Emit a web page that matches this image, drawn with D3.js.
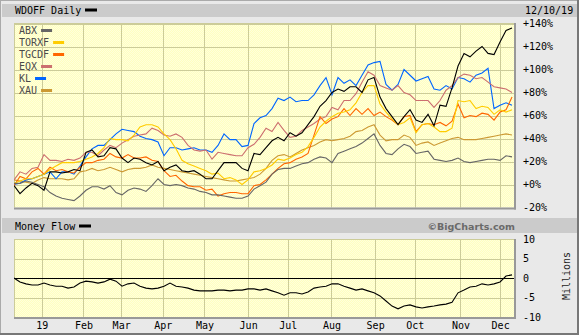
<!DOCTYPE html>
<html><head><meta charset="utf-8">
<script src="https://cdn.jsdelivr.net/npm/d3@7"></script>
<style>
html,body{margin:0;padding:0;background:#e9e9e9;}
svg{display:block;font-family:"DejaVu Sans Mono",monospace;}
</style>
</head><body>
<svg id="c" width="579" height="335"></svg>
<script>
// ---------- data (percent change vs. start, sampled evenly over 252 trading days) ----------
const symbols = ["ABX","TORXF","TGCDF","EQX","KL","XAU"];
const symbolColors = ["#666666","#ffcc00","#ff6600","#cc6f6f","#0066ff","#cc9933"];
const wdoff = [-1,-8,-3,1,-1,-5,11,11,10,11, 13,12,28,30,24,25,32,31,23,19, 23,22,19,17,20,12,15,17,12,11,
  12,9,5,5,12,19,19,19,14,12, 27,26,32,38,41,38,45,42,45,52, 59,68,73,80,83,81,85,85,80,91,
  93,76,66,59,52,59,65,56,54,61, 51,69,68,84,103,114,111,116,120,114, 113,124,134,136];
const abx = [1,1,3,2,0,-2,-7,-10,-12,-13, -14,-10,-5,-2,-2,-4,-1,-7,-9,-5, -3,-4,-6,-1,5,0,-1,0,-1,-3,
  -4,-6,-7,-9,-9,-10,-11,-12,-12,-10, -4,-1,2,9,13,14,14,16,18,19, 22,24,23,19,27,29,31,33,36,40,
  44,34,27,26,31,35,33,27,28,29, 22,21,20,21,23,20,19,20,21,22, 22,21,25,24];
const torxf = [1,3,5,5,7,9,13,16,19,19, 19,20,22,24,27,32,40,39,39,38, 43,50,52,52,50,44,39,31,21,18,
  16,14,12,9,10,5,6,4,0,4, 11,12,14,17,22,21,23,26,28,33, 41,50,55,59,62,63,65,71,80,86,
  86,70,63,57,52,54,58,45,52,53, 50,46,46,49,73,72,73,66,68,67, 61,65,63,65];
const tgcdf = [-1,7,5,11,14,9,15,12,13,11, 10,15,19,19,21,22,27,24,23,26, 23,23,24,21,20,12,7,8,3,-1,
  -2,-2,-5,-4,-10,-8,-7,-7,-8,-8, -1,0,4,9,14,18,19,22,24,27, 43,59,53,57,59,66,60,66,61,66,
  60,63,59,56,52,59,60,46,52,53, 52,54,51,55,70,58,60,59,62,61, 56,63,65,76];
const eqx = [4,11,9,14,15,26,21,21,20,22, 21,23,28,28,25,30,34,32,36,39, 42,43,44,49,47,43,42,44,41,34,
  30,29,30,22,28,27,26,25,25,32, 35,41,49,46,54,47,41,42,47,50, 53,57,59,67,65,73,73,79,89,98,
  95,86,84,82,86,80,78,73,73,73, 67,73,82,86,93,96,95,92,93,89, 85,84,83,80];
const kl = [0,1,4,5,7,9,11,5,11,11, 9,16,24,31,34,34,39,44,48,47, 46,42,40,39,37,25,32,32,30,31,
  32,30,30,28,34,44,39,39,33,34, 53,58,60,66,75,73,76,72,73,73, 78,86,93,78,93,88,91,86,95,104,
  106,107,87,82,87,100,95,90,92,94, 83,82,86,83,93,92,89,95,97,101, 66,69,71,69];
const xau = [4,3,2,1,4,6,5,5,5,4, 5,11,12,14,12,13,15,13,11,13, 14,14,15,17,15,14,13,12,11,10,
  9,8,7,6,5,4,3,3,4,5, 6,9,14,21,25,26,24,27,30,32, 34,37,39,38,39,40,42,46,47,50,
  52,43,38,39,39,43,41,34,36,37, 34,36,38,40,41,39,39,39,40,41, 42,43,44,43];
const moneyFlow = [0,-1.0,-1.5,-1.8,-1.8,-1.3,-1.8,-2.1,-2.1,-2.6, -2.3,-1.3,-0.8,-1.0,-1.3,-1.0,-0.3,-0.8,-2.1,-1.5,
  -1.3,-2.1,-2.6,-2.8,-2.6,-2.1,-1.3,-2.1,-2.3,-2.6, -3.1,-3.3,-3.3,-3.3,-3.1,-3.1,-3.3,-3.1,-3.1,-2.8,
  -2.8,-3.1,-2.8,-3.3,-3.8,-4.4,-3.8,-3.8,-4.1,-3.6, -2.6,-2.3,-2.1,-1.5,-1.5,-2.1,-2.6,-3.1,-2.8,-3.3,
  -3.8,-4.6,-5.9,-7.2,-7.9,-7.2,-6.9,-7.4,-7.7,-7.4, -7.2,-6.9,-6.7,-6.2,-3.8,-3.1,-2.3,-2.1,-1.5,-1.8,
  -1.5,-1.0,0.5,0.8];
const monthLabels = ["19","Feb","Mar","Apr","May","Jun","Jul","Aug","Sep","Oct","Nov","Dec"];
const monthDays = [14,35,54,75,96,118,138,160,182,202,225,245];   // trading-day index of month starts
const pctTicks = [-20,0,20,40,60,80,100,120,140];
const mfTicks = [-10,-5,0,5,10];
const lastDay = 251;
const dateLabel = "12/10/19";

// ---------- layout ----------
const svg = d3.select("#c");
const P = {l:14, r:514, t:23, b:207.5};
const Q = {l:14, r:514, t:239, b:317};
const x = d3.scaleLinear().domain([0,253]).range([14,516]);
const y = d3.scaleLinear().domain([-20,140]).range([207.5,23.5]);
const y2 = d3.scaleLinear().domain([-10,10]).range([317,239]);
const n = wdoff.length;
const dayOf = i => i*lastDay/(n-1);
const gridC = "#cccc99";

// pattern for plot bg
const defs = svg.append("defs");
const pat = defs.append("pattern").attr("id","dith").attr("width",2).attr("height",2).attr("patternUnits","userSpaceOnUse");
pat.append("rect").attr("width",2).attr("height",2).attr("fill","#ffffc0");
pat.append("rect").attr("width",1).attr("height",1).attr("fill","#ffffdc");
pat.append("rect").attr("x",1).attr("y",1).attr("width",1).attr("height",1).attr("fill","#ffffdc");
defs.append("clipPath").attr("id","clipA").append("rect").attr("x",P.l).attr("y",P.t).attr("width",P.r-P.l).attr("height",P.b-P.t);
defs.append("clipPath").attr("id","clipB").append("rect").attr("x",Q.l).attr("y",Q.t).attr("width",Q.r-Q.l).attr("height",Q.b-Q.t);

// page background + frame
svg.append("rect").attr("width",579).attr("height",335).attr("fill","#e9e9e9");
// header bars
svg.append("rect").attr("x",2).attr("y",4).attr("width",575).attr("height",13).attr("fill","#cbcbcb");
svg.append("rect").attr("x",2).attr("y",218).attr("width",575).attr("height",15).attr("fill","#cbcbcb");
svg.append("text").attr("x",15).attr("y",13.5).attr("font-size",10).attr("fill","#000").text("WDOFF Daily");
svg.append("rect").attr("x",85).attr("y",8.5).attr("width",12).attr("height",3).attr("fill","#000");
svg.append("text").attr("x",525).attr("y",13.5).attr("font-size",10).attr("fill","#000").text(dateLabel);
svg.append("text").attr("x",15).attr("y",229.5).attr("font-size",10).attr("fill","#000").text("Money Flow");
svg.append("rect").attr("x",79).attr("y",224.5).attr("width",12).attr("height",3).attr("fill","#000");
svg.append("text").attr("x",515).attr("y",229.5).attr("text-anchor","end").attr("font-size",9.5)
  .attr("font-weight","bold").attr("font-family","'DejaVu Sans',sans-serif").attr("fill","#6a6a6a").text("\u00A9BigCharts.com");

function panel(R, yScale, ticks){
  svg.append("rect").attr("x",R.l).attr("y",R.t).attr("width",R.r-R.l).attr("height",R.b-R.t).attr("fill","url(#dith)");
  const g = svg.append("g").attr("stroke",gridC).attr("stroke-width",1);
  ticks.forEach(v=>{
    const yy = Math.round(yScale(v))+0.5;
    g.append("line").attr("x1",R.l).attr("x2",R.r).attr("y1",yy).attr("y2",yy);
  });
  monthDays.forEach(d=>{
    const xx = Math.round(x(d))+0.5;
    g.append("line").attr("x1",xx).attr("x2",xx).attr("y1",R.t).attr("y2",R.b);
  });
  g.append("line").attr("x1",R.l+0.5).attr("x2",R.l+0.5).attr("y1",R.t).attr("y2",R.b);
  g.append("line").attr("x1",R.l).attr("x2",R.r).attr("y1",R.t+0.5).attr("y2",R.t+0.5);
}
panel(P, y, pctTicks);
panel(Q, y2, mfTicks);

// series lines (main)
const line = d3.line().x((d,i)=>x(dayOf(i))).y(d=>y(d));
const series = [xau, kl, eqx, tgcdf, torxf, abx];
const seriesIdx = [5,4,3,2,1,0];
const gl = svg.append("g").attr("clip-path","url(#clipA)").attr("fill","none");
series.forEach((s,k)=>{
  gl.append("path").attr("d",line(s)).attr("stroke",symbolColors[seriesIdx[k]]).attr("stroke-width",1.1);
});
gl.append("path").attr("d",line(wdoff)).attr("stroke","#000").attr("stroke-width",1.1);

// legend
const lg = svg.append("g").attr("font-size",10);
symbols.forEach((s,i)=>{
  const by = 34 + i*12;
  lg.append("text").attr("x",19).attr("y",by).attr("fill","#4a4a4a").text(s);
  lg.append("rect").attr("x",19 + s.length*6.02 + 4).attr("y",by-5).attr("width",11).attr("height",3).attr("fill",symbolColors[i]);
});

// money flow
const gm = svg.append("g").attr("clip-path","url(#clipB)").attr("fill","none");
gm.append("line").attr("x1",Q.l).attr("x2",Q.r).attr("y1",Math.round(y2(0))+0.5).attr("y2",Math.round(y2(0))+0.5).attr("stroke","#000");
const line2 = d3.line().x((d,i)=>x(dayOf(i))).y(d=>y2(d));
gm.append("path").attr("d",line2(moneyFlow)).attr("stroke","#000").attr("stroke-width",1.1);

// shadows
[[P],[Q]].forEach(([R])=>{
  svg.append("rect").attr("x",R.r).attr("y",R.t).attr("width",2).attr("height",R.b-R.t+2).attr("fill","#999");
  svg.append("rect").attr("x",R.l).attr("y",R.b).attr("width",R.r-R.l+2).attr("height",2).attr("fill","#999");
});

// axes
const ax1 = svg.append("g").attr("transform",`translate(516,0)`)
  .call(d3.axisRight(y).tickValues(pctTicks).tickFormat(d=>(d>=0?"+":"")+d+"%").tickSize(0).tickPadding(7));
const ax2 = svg.append("g").attr("transform",`translate(516,0)`)
  .call(d3.axisRight(y2).tickValues(mfTicks).tickFormat(d=>String(d)).tickSize(0).tickPadding(7));
const ax3 = svg.append("g").attr("transform",`translate(0,${Q.b})`)
  .call(d3.axisBottom(x).tickValues(monthDays).tickFormat((d,i)=>monthLabels[i]).tickSize(0).tickPadding(5));
[ax1,ax2,ax3].forEach(a=>{
  a.select(".domain").remove();
  a.selectAll("text").attr("font-family","'DejaVu Sans Mono',monospace").attr("font-size",10).attr("fill","#000");
});
svg.append("text").attr("transform","translate(570,276) rotate(-90)").attr("text-anchor","middle")
  .attr("font-size",10).attr("fill","#222").text("Millions");

// outer frame
svg.append("rect").attr("x",0.5).attr("y",0.5).attr("width",577).attr("height",333).attr("fill","none").attr("stroke","#aaa");
svg.append("line").attr("x1",578).attr("x2",578).attr("y1",0).attr("y2",335).attr("stroke","#777").attr("stroke-width",2);
svg.append("line").attr("x1",0).attr("x2",579).attr("y1",334).attr("y2",334).attr("stroke","#777").attr("stroke-width",2);
</script>
</body></html>
